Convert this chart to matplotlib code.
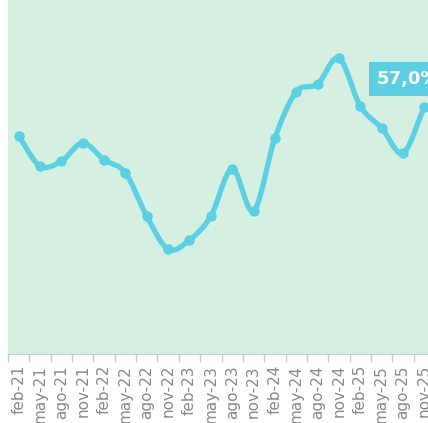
import numpy as np
import matplotlib.pyplot as plt

# Data (quarterly)
months = ["feb-21", "may-21", "ago-21", "nov-21", "feb-22", "may-22", "ago-22", "nov-22",
          "feb-23", "may-23", "ago-23", "nov-23", "feb-24", "may-24", "ago-24", "nov-24",
          "feb-25", "may-25", "ago-25", "nov-25"]
values = [50.3, 43.4, 44.5, 48.7, 44.8, 41.8, 31.8, 24.2,
          26.3, 31.8, 42.7, 33.0, 49.8, 60.5, 62.3, 68.3,
          57.2, 52.2, 46.4, 57.0]
last_label = "57,0%"

line_color = "#5ccfe3"
bg_color = "#d5f0e0"


def smooth(x, y, steps=20):
    # Catmull-Rom spline through the points, like a smoothed line
    x = np.asarray(x, float)
    y = np.asarray(y, float)
    px = np.concatenate([[2 * x[0] - x[1]], x, [2 * x[-1] - x[-2]]])
    py = np.concatenate([[2 * y[0] - y[1]], y, [2 * y[-1] - y[-2]]])
    xs, ys = [], []
    t = np.linspace(0, 1, steps, endpoint=False)
    for i in range(1, len(px) - 2):
        for p, out in ((px, xs), (py, ys)):
            p0, p1, p2, p3 = p[i - 1], p[i], p[i + 1], p[i + 2]
            out.extend(0.5 * ((2 * p1) + (-p0 + p2) * t
                              + (2 * p0 - 5 * p1 + 4 * p2 - p3) * t ** 2
                              + (-p0 + 3 * p1 - 3 * p2 + p3) * t ** 3))
    xs.append(x[-1])
    ys.append(y[-1])
    return np.array(xs), np.array(ys)


x = np.arange(len(months))
sx, sy = smooth(x, values)

fig = plt.figure(figsize=(4.28, 4.23), dpi=100)
ax = fig.add_axes([8 / 428, 69 / 423, 427 / 428, 354 / 423])
ax.set_facecolor(bg_color)

ax.plot(sx, sy, color=line_color, linewidth=3.8, solid_capstyle='round', zorder=3)
ax.plot(x, values, 'o', color=line_color, markersize=6.5, zorder=4)

ax.text(16.36 + 0.42, 63.5, last_label, ha='left', va='center', color='white',
        fontsize=13, fontweight='bold', zorder=5,
        bbox=dict(boxstyle='square,pad=0.45', fc=line_color, ec='none'))

ax.set_xlim(-0.5, len(months) - 0.5)
ax.set_ylim(0, 81.7)

ax.set_xticks(np.arange(len(months) + 1) - 0.5)
ax.set_xticklabels([])
ax.tick_params(axis='x', which='major', length=6, color='#cccccc', width=1)
ax.set_xticks(x, minor=True)
ax.set_xticklabels(months, minor=True, rotation=90, fontsize=11, color='#888888')
ax.tick_params(axis='x', which='minor', length=0, pad=8)
ax.set_yticks([])

for s in ['top', 'right', 'left']:
    ax.spines[s].set_visible(False)
ax.spines['bottom'].set_color('#cccccc')

fig.savefig("out.png", dpi=100)
